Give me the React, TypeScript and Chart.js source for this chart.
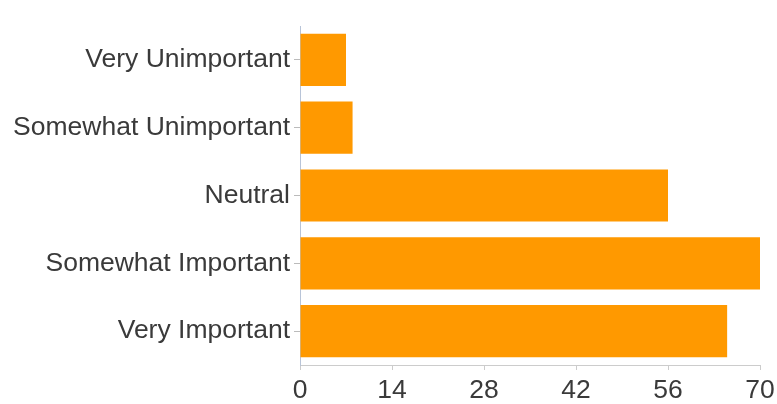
import React, { useEffect, useRef } from "react";
import { Chart, registerables } from "chart.js";

Chart.register(...registerables);

const categories = [
  "Very Unimportant",
  "Somewhat Unimportant",
  "Neutral",
  "Somewhat Important",
  "Very Important",
];
const values = [7, 8, 56, 70, 65];
const xTicks = [0, 14, 28, 42, 56, 70];

export default function App() {
  const ref = useRef<HTMLCanvasElement | null>(null);

  useEffect(() => {
    if (!ref.current) return;
    const font = { family: 'Arial, "Liberation Sans", sans-serif', size: 26.5 };
    const chart = new Chart(ref.current, {
      type: "bar",
      data: {
        labels: categories,
        datasets: [
          {
            data: values,
            backgroundColor: "#ff9900",
            borderWidth: 0,
            barPercentage: 0.77,
            categoryPercentage: 1,
          },
        ],
      },
      options: {
        indexAxis: "y",
        animation: false,
        responsive: false,
        maintainAspectRatio: false,
        layout: { padding: { top: 26, right: 17, left: 0, bottom: 0 } },
        plugins: { legend: { display: false }, tooltip: { enabled: false } },
        scales: {
          x: {
            min: 0,
            max: 70,
            afterBuildTicks: (s: any) => {
              s.ticks = xTicks.map((v) => ({ value: v }));
            },
            afterFit: (s: any) => {
              s.height = 39;
              s.paddingRight = 0;
              s.paddingLeft = 0;
            },
            ticks: { color: "#3a3a3a", font, padding: 5, maxRotation: 0, autoSkip: false },
            grid: { drawOnChartArea: false, drawTicks: true, tickLength: 5, color: "#ccc" },
            border: { display: true, color: "#ccc", width: 1 },
          },
          y: {
            afterFit: (s: any) => {
              s.width = 300;
            },
            ticks: { color: "#3a3a3a", font, padding: 4 },
            grid: { offset: false, drawOnChartArea: false, drawTicks: true, tickLength: 6, color: "#bbb" },
            border: { display: true, color: "#b8c4d8", width: 1 },
          },
        },
      },
    });
    return () => chart.destroy();
  }, []);

  return (
    <div style={{ position: "fixed", left: 0, top: 0, width: 777, height: 404, background: "#fff" }}>
      <canvas ref={ref} width={777} height={404} style={{ width: 777, height: 404 }} />
    </div>
  );
}
